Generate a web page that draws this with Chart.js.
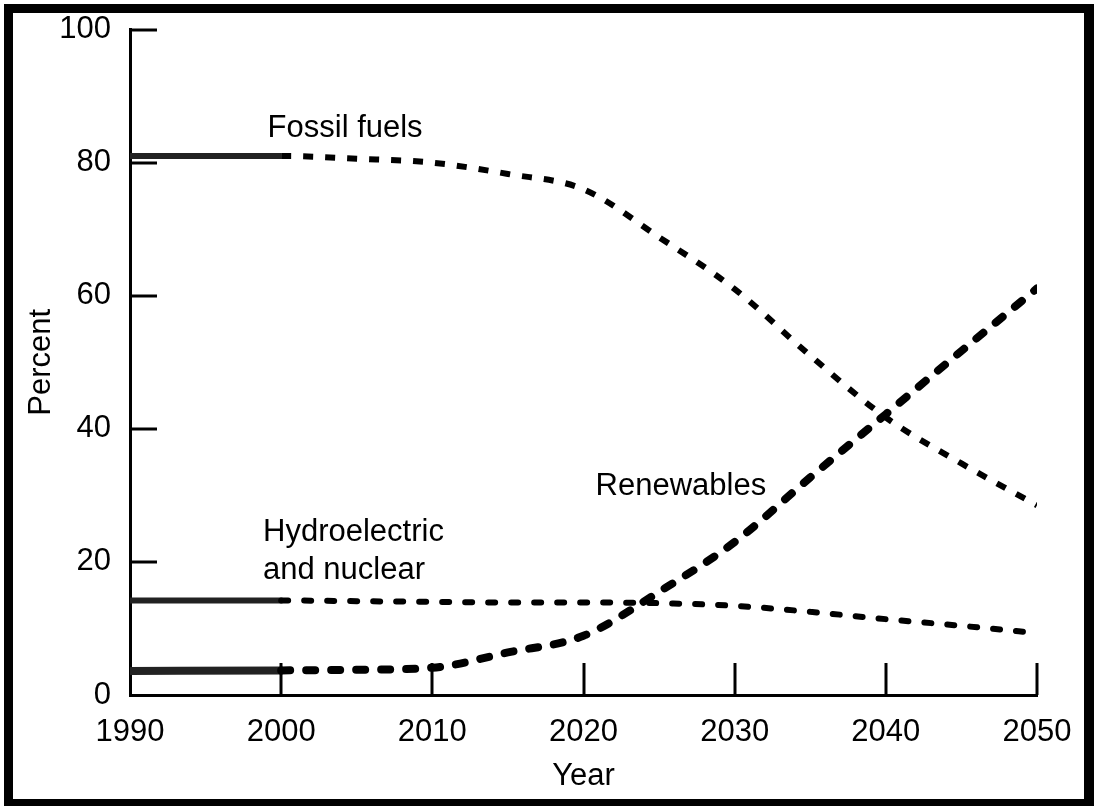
<!DOCTYPE html>
<html>
<head>
<meta charset="utf-8">
<script src="https://cdn.jsdelivr.net/npm/chart.js@4"></script>
<style>
  html, body { margin: 0; padding: 0; background: #fff; }
  #wrap { position: relative; width: 1094px; height: 806px; overflow: hidden; }
  #frame {
    position: absolute; left: 4px; top: 4px; width: 1090px; height: 802px;
    box-sizing: border-box; border: solid #000;
    border-width: 9px 10px 7px 9px; pointer-events: none;
  }
</style>
</head>
<body>
<div id="wrap">
  <canvas id="chart" width="1094" height="806"></canvas>
  <div id="frame"></div>
</div>
<script>
const years = [1990, 2000, 2005, 2010, 2015, 2020, 2025, 2030, 2035, 2040, 2045, 2050];
const fossil = [81, 81, 80.6, 80, 78.3, 76, 68.8, 61, 51, 41.7, 34.8, 28.5];
const hydroNuclear = [14.2, 14.2, 14.1, 14, 13.9, 13.9, 13.8, 13.4, 12.5, 11.4, 10.4, 9.3];
const renewables = [3.6, 3.7, 3.8, 4.1, 6.4, 8.9, 15.5, 23, 32.7, 42.2, 51.7, 61.1];
const xTicks = [1990, 2000, 2010, 2020, 2030, 2040, 2050];
const yTicks = [0, 20, 40, 60, 80, 100];

const FONT = "'Liberation Sans', Arial, Helvetica, sans-serif";

function pts(values) {
  return years.map((y, i) => ({ x: y, y: values[i] }));
}

// solid up to 2000 (observed), dashed after (projection)
function series(label, values, width, dash, cap) {
  return {
    label: label,
    data: pts(values),
    borderColor: "#000",
    borderWidth: width,
    borderCapStyle: cap,
    pointRadius: 0,
    cubicInterpolationMode: "monotone",
    segment: {
      borderDash: ctx => (ctx.p0.parsed.x < 2000 ? [] : dash),
      borderColor: ctx => (ctx.p0.parsed.x < 2000 ? "#222" : "#000"),
    },
  };
}

const inwardTicks = {
  id: "inwardTicks",
  afterDraw(chart) {
    const { ctx, scales } = chart;
    const x = scales.x, y = scales.y;
    ctx.save();
    ctx.strokeStyle = "#000";
    ctx.lineWidth = 3;
    ctx.lineCap = "butt";
    xTicks.slice(1).forEach(v => {
      const px = Math.round(x.getPixelForValue(v));
      ctx.beginPath();
      ctx.moveTo(px, y.getPixelForValue(0));
      ctx.lineTo(px, y.getPixelForValue(0) - 32);
      ctx.stroke();
    });
    yTicks.slice(1).forEach(v => {
      const py = Math.round(y.getPixelForValue(v));
      ctx.beginPath();
      ctx.moveTo(x.getPixelForValue(1990), py);
      ctx.lineTo(x.getPixelForValue(1990) + 27, py);
      ctx.stroke();
    });
    ctx.restore();
  },
};

// series names written next to the lines
const seriesLabels = {
  id: "seriesLabels",
  afterDraw(chart) {
    const { ctx, scales } = chart;
    const x = scales.x, y = scales.y;
    ctx.save();
    ctx.fillStyle = "#000";
    ctx.font = "31px " + FONT;
    ctx.textAlign = "left";
    ctx.textBaseline = "alphabetic";
    ctx.fillText("Fossil fuels", x.getPixelForValue(1999.1), y.getPixelForValue(83.8));
    ctx.fillText("Renewables", x.getPixelForValue(2020.8), y.getPixelForValue(30.1));
    ctx.fillText("Hydroelectric", x.getPixelForValue(1998.8), y.getPixelForValue(23.1));
    ctx.fillText("and nuclear", x.getPixelForValue(1998.8), y.getPixelForValue(17.4));
    ctx.restore();
  },
};

new Chart(document.getElementById("chart"), {
  type: "line",
  data: {
    datasets: [
      series("Fossil fuels", fossil, 6, [10, 12], "butt"),
      series("Hydroelectric and nuclear", hydroNuclear, 6, [7, 16], "round"),
      series("Renewables", renewables, 8, [9, 16], "round"),
    ],
  },
  options: {
    responsive: false,
    animation: false,
    layout: { padding: { top: 24, right: 57, left: 0, bottom: 0 } },
    plugins: {
      legend: { display: false },
      tooltip: { enabled: false },
    },
    scales: {
      x: {
        type: "linear",
        min: 1990,
        max: 2050,
        afterBuildTicks: scale => {
          scale.ticks = xTicks.map(v => ({ value: v }));
        },
        afterFit: scale => {
          scale.height = 111;
        },
        grid: { display: false },
        border: { display: true, color: "#000", width: 3 },
        ticks: {
          color: "#000",
          font: { family: FONT, size: 31 },
          padding: 11,
          maxRotation: 0,
          callback: v => String(v),
        },
        title: {
          display: true,
          text: "Year",
          color: "#000",
          font: { family: FONT, size: 31 },
          padding: { top: 11, bottom: 11 },
        },
      },
      y: {
        min: 0,
        max: 100,
        afterBuildTicks: scale => {
          scale.ticks = yTicks.map(v => ({ value: v }));
        },
        afterFit: scale => {
          scale.width = 130;
        },
        grid: { display: false },
        border: { display: true, color: "#000", width: 3 },
        ticks: {
          color: "#000",
          font: { family: FONT, size: 31 },
          padding: 11,
        },
        title: {
          display: true,
          text: "Percent",
          color: "#000",
          font: { family: FONT, size: 31 },
          padding: { top: 23, bottom: 23 },
        },
      },
    },
  },
  plugins: [inwardTicks, seriesLabels],
});
</script>
</body>
</html>
